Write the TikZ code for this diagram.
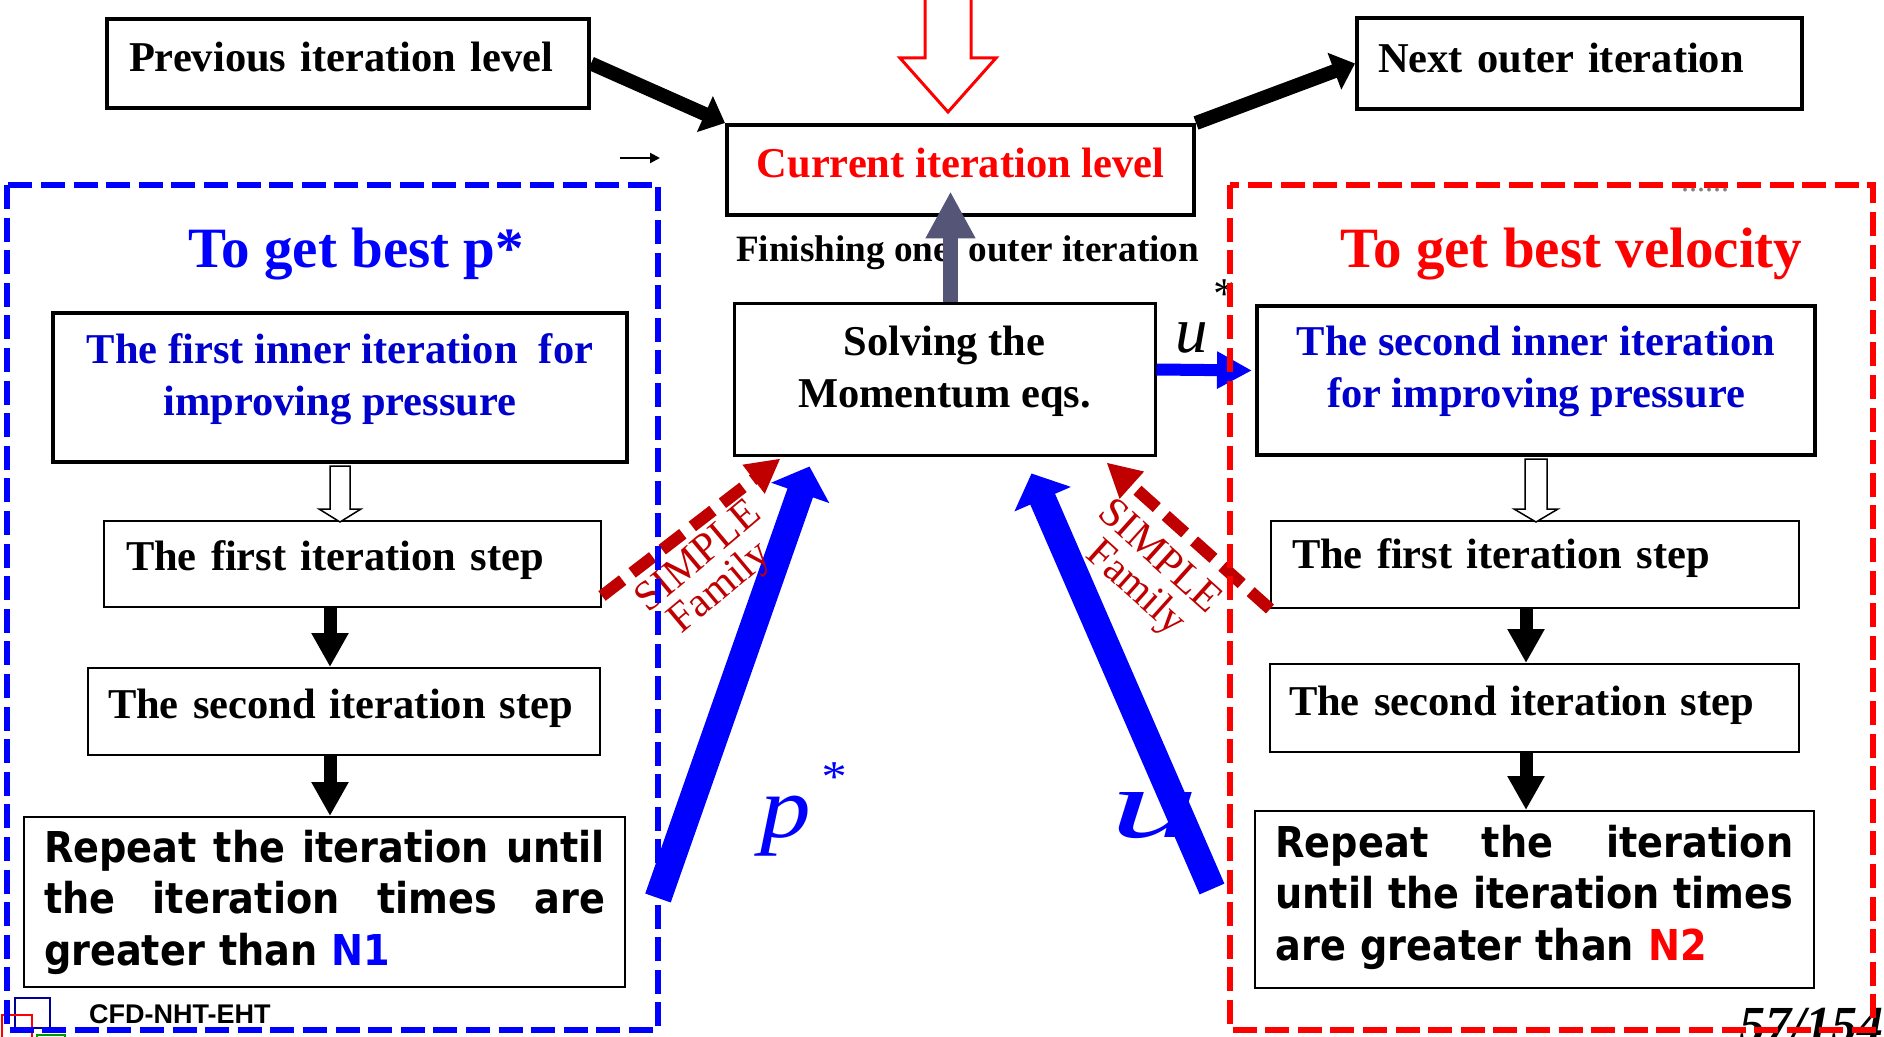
\documentclass[tikz,border=0pt]{standalone}
\usepackage{fontspec}
\setmainfont{Liberation Serif}
\newfontfamily\repfont[FakeStretch=0.9]{DejaVu Sans}
\newfontfamily\logofont{Liberation Sans}
\usepackage{xcolor}
\usepackage{tikz}
\usetikzlibrary{arrows.meta, calc}
\definecolor{innerblue}{RGB}{0,0,204}
\definecolor{simplered}{RGB}{192,0,0}
\definecolor{upgray}{RGB}{85,85,120}
\definecolor{logoblue}{RGB}{0,0,150}

\begin{document}
\begin{tikzpicture}[x=0.5pt, y=-0.5pt,
	levelbox/.style={draw, line width=2pt, inner sep=0pt, font=\fontsize{21.25}{26}\selectfont\bfseries},
	stepbox/.style={draw, line width=1pt, inner sep=0pt, align=left, font=\fontsize{21.25}{26}\selectfont\bfseries},
	repbox/.style={draw, line width=1pt, inner sep=0pt, align=left, text height=16pt, font=\repfont\fontsize{21.25}{25.75}\selectfont\bfseries},
	fatblack/.style={line width=7pt, -{Triangle[length=11pt, width=19pt]}},
	downarrow/.style={line width=6.5pt, -{Triangle[length=17pt, width=17.5pt]}},
	hollow/.style={draw, line width=0.75pt, fill=white},
	bigblue/.style={blue, line width=13.5pt, -{Triangle[length=14pt, width=30pt]}},
	simplearrow/.style={simplered, line width=6pt, dash pattern=on 13pt off 6pt, -{Triangle[length=17pt, width=17pt]}},
	simpletext/.style={simplered, font=\fontsize{21}{21}\selectfont},
	groupframe/.style={line width=3pt, dash pattern=on 12pt off 4.3pt}
	]
	\useasboundingbox (0,0) rectangle (1884,1037);
	
	\node[levelbox, minimum width=241pt, minimum height=44.5pt, text width=219pt, align=left, text depth=7pt] (prev) at (348,63.5) {Previous iteration level};
	\node[levelbox, minimum width=233.5pt, minimum height=45pt, text=red, text depth=7.5pt] (cur) at (960.5,170) {Current iteration level};
	\node[levelbox, minimum width=222.5pt, minimum height=45.5pt, text width=201.5pt, align=left, text depth=6pt] (next) at (1579.5,63.5) {Next outer iteration};
	
	\draw[red, line width=1.5pt, fill=white] (925,-2) -- (925,58) -- (900,58) -- (948,112) -- (996,58) -- (971,58) -- (971,-2) -- cycle;
	
	\draw[fatblack] (prev.east) -- (cur.north west);
	\draw[fatblack] (cur.north east) -- (next.west);
	
	\coordinate (stray) at (620,158);
	\draw[line width=1pt, -{Triangle[length=5pt, width=5pt]}] (stray) -- ++(40,0);
	
	\node[levelbox, line width=1.5pt, minimum width=210.5pt, minimum height=75.5pt, align=center, text depth=13pt] (sol) at (944.5,379.5) {Solving the\\Momentum eqs.};
	\node[anchor=base west, font=\fontsize{18.6}{18.6}\selectfont\bfseries] (fin) at (729,262) {Finishing one\ \ outer iteration};
	\draw[upgray, line width=7.5pt, -{Triangle[length=23.5pt, width=23.5pt]}] ($(sol.north)+(6,0)$) -- ++(0,-111);
	
	\node[anchor=base, text=blue, font=\fontsize{28.5}{28.5}\selectfont\bfseries] (ptitle) at (356.5,268) {To get best p*};
	\node[levelbox, text=innerblue, minimum width=287pt, minimum height=74.5pt, align=center, text depth=13pt] (in1) at (340,387.5) {The first inner iteration\ \ for\\improving pressure};
	\node[stepbox, minimum width=248.5pt, minimum height=43pt, text width=226.5pt, text depth=8.5pt] (st1) at (352.5,564) {The first iteration step};
	\node[stepbox, minimum width=256pt, minimum height=43.5pt, text width=236pt, text depth=8pt] (st2) at (344,711.5) {The second iteration step};
	\node[repbox, minimum width=300.5pt, minimum height=85pt, text width=280.5pt, text depth=56pt] (rep1) at (324.5,902) {\makebox[\hsize]{Repeat\hfill the\hfill iteration\hfill until}\\\makebox[\hsize]{the\hfill iteration\hfill times\hfill are}\\greater than \textcolor{blue}{N1}};
	
	\draw[hollow] (in1.south) ++(-10,2) -- ++(0,43) -- ++(-11,0) -- ++(21,13) -- ++(21,-13) -- ++(-11,0) -- ++(0,-43) -- cycle;
	\coordinate (lx) at (330,0);
	\draw[downarrow] (st1.south -| lx) -- (st2.north -| lx);
	\draw[downarrow] (st2.south -| lx) -- (rep1.north -| lx);
	
	\node[anchor=base, text=red, font=\fontsize{28.5}{28.5}\selectfont\bfseries] (vtitle) at (1571.5,268) {To get best velocity};
	\node[levelbox, text=innerblue, minimum width=279pt, minimum height=74.5pt, align=center, text depth=13.5pt] (in2) at (1536,380.5) {The second inner iteration\\for improving pressure};
	\node[stepbox, minimum width=264pt, minimum height=43.5pt, text width=243pt, text depth=11pt] (rst1) at (1535,564.5) {The first iteration step};
	\node[stepbox, minimum width=264.5pt, minimum height=44pt, text width=245.5pt, text depth=7.5pt] (rst2) at (1534.5,708) {The second iteration step};
	\node[repbox, minimum width=279.5pt, minimum height=88.5pt, text width=259pt, text depth=58.5pt] (rep2) at (1534.5,899.5) {\makebox[\hsize]{Repeat\hfill the\hfill iteration}\\\makebox[\hsize]{until\hfill the\hfill iteration\hfill times}\\are greater than \textcolor{red}{N2}};
	
	\draw[hollow] (in2.south) ++(-11,2) -- ++(0,50) -- ++(-11,0) -- ++(22,13) -- ++(22,-13) -- ++(-11,0) -- ++(0,-50) -- cycle;
	\coordinate (rx) at (1526,0);
	\draw[downarrow] (rst1.south -| rx) -- (rst2.north -| rx);
	\draw[downarrow] (rst2.south -| rx) -- (rep2.north -| rx);
	
	\draw[blue, line width=6pt, -{Triangle[length=17.5pt, width=17.5pt]}] ($(sol.east)+(0,-10)$) -- ($(in2.west)+(-3,-10)$);
	\node[anchor=base west, font=\fontsize{32.5}{32.5}\selectfont\itshape] (ustar) at (1168,353) {u\hspace{2pt}\raisebox{22pt}{\fontsize{22}{22}\selectfont *}};
	
	\node[anchor=base west, text=blue, xscale=1.15, font=\fontsize{44}{44}\selectfont\itshape] (pstar) at (752,837) {p\hspace{4pt}\raisebox{23pt}{\fontsize{22}{22}\selectfont *}};
	\node[anchor=base west, text=blue, xscale=1.8, font=\fontsize{49}{49}\selectfont\itshape] (ubig) at (1098,837) {u};
	
	\coordinate (ptail) at (658,898);
	\coordinate (utail) at (1212,889);
	\draw[bigblue] (ptail) -- ($(sol.south west)+(77,10)$);
	\draw[bigblue] (utail) -- ($(sol.south east)+(-125,17)$);
	
	\draw[simplearrow] ($(st1.south east)+(0,-12)$) -- ($(sol.south west)+(48,2)$);
	\draw[simplearrow] (rst1.south west) -- ($(sol.south east)+(-50,6)$);
	\node[simpletext, rotate=40] (simple1) at (697,555) {SIMPLE};
	\node[simpletext, rotate=40] (family1) at (721,589) {Family};
	\node[simpletext, rotate=-42] (simple2) at (1161,555) {SIMPLE};
	\node[simpletext, rotate=-42] (family2) at (1135,589) {Family};
	
	\node[text=gray, font=\fontsize{16}{16}\selectfont] (dots) at (1705,190) {......};
	
	\draw[logoblue, line width=1.2pt] (15,998) rectangle (50,1028);
	\draw[red, line width=1.2pt] (2,1015) rectangle (32,1045);
	\draw[green!60!black, line width=1.2pt] (37,1035) rectangle (65,1055);
	\node[anchor=base west, font=\logofont\fontsize{13.5}{13.5}\selectfont\bfseries] (cfd) at (82,1023) {CFD-NHT-EHT};
	\node[anchor=base west, font=\fontsize{26}{26}\selectfont\bfseries\itshape] (page) at (1732,1042) {57/154};
	
	\draw[blue, groupframe] (7,185) rectangle (658,1030);
	\draw[red, groupframe] (1230,185) rectangle (1873,1030);
\end{tikzpicture}
\end{document}
